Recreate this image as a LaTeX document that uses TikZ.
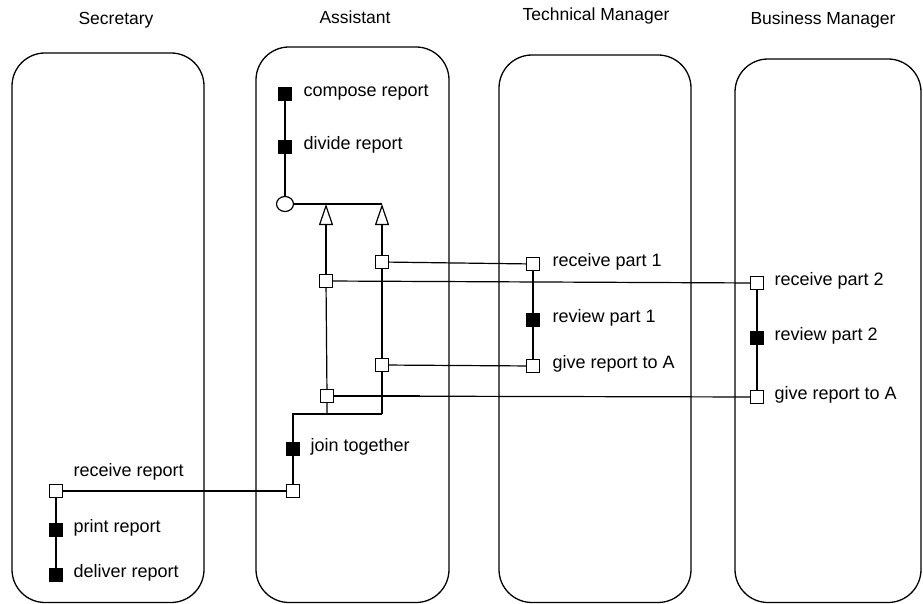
\documentclass[tikz,border=0pt]{standalone}
\usepackage{fontspec}
\setmainfont{Liberation Sans}
\usetikzlibrary{arrows.meta,shapes.geometric}
\newcommand{\bodyfont}{\fontsize{18}{21}\selectfont}
\newcommand{\headfont}{\fontsize{17.5}{20}\selectfont}
\begin{document}
\begin{tikzpicture}[x=1pt,y=-1pt,line width=1.2pt,
  lane/.style={draw,line width=1.3pt,rounded corners=33pt},
  head/.style={font=\headfont,inner sep=0pt,text height=0.72em,text depth=0.21em},
  act/.style={draw,fill=black,minimum size=12.5pt,inner sep=0pt},
  evt/.style={draw,fill=white,minimum size=12.5pt,inner sep=0pt},
  forkpt/.style={draw,fill=white,ellipse,minimum width=17pt,minimum height=15pt,inner sep=0pt},
  lbl/.style={anchor=west,inner sep=0pt,font=\bodyfont,text height=0.72em,text depth=0.21em},
  sync/.style={-{Triangle[open,length=21pt,width=14pt,line width=1.2pt]}},
  heavy/.style={line width=2.4pt}]
\useasboundingbox (0,0) rectangle (923,604);

% swimlanes
\draw[lane] (12,53) rectangle (204,602.5);
\draw[lane] (256,47) rectangle (449,602.5);
\draw[lane] (499,55) rectangle (691,602.5);
\draw[lane] (735,59) rectangle (921,602.5);

% lane titles
\node[head] (hS) at (116,22) {Secretary};
\node[head] (hA) at (355,21) {Assistant};
\node[head] (hT) at (596,18) {Technical Manager};
\node[head] (hB) at (823,22) {Business Manager};

% Assistant
\node[act] (compose) at (285,94) {};
\node[lbl] (composeL) at (303,94) {compose report};
\node[act] (divide) at (285,147) {};
\node[lbl] (divideL) at (303,147) {divide report};
\node[forkpt] (fork) at (285,204) {};
\coordinate (barR) at (382,204);
\coordinate (arrL) at (326,204);
\coordinate (arrR) at (382,204);
\node[evt] (a1) at (382,262) {};
\node[evt] (a2) at (326,281) {};
\node[evt] (a3) at (382,365) {};
\node[evt] (a4) at (327,396) {};
\coordinate (jL) at (293,414);
\coordinate (jR) at (382,414);
\coordinate (jM) at (327,414);
\node[act] (join) at (293,449) {};
\node[lbl] (joinL) at (310,449) {join together};
\node[evt] (a5) at (293,491) {};

% Technical Manager
\node[evt] (t1) at (533,264) {};
\node[lbl] (t1L) at (552,264) {receive part 1};
\node[act] (t2) at (533,320) {};
\node[lbl] (t2L) at (552,320) {review part 1};
\node[evt] (t3) at (533,366) {};
\node[lbl] (t3L) at (552,366) {give report to A};

% Business Manager
\node[evt] (b1) at (757,283) {};
\node[lbl] (b1L) at (774,283) {receive part 2};
\node[act] (b2) at (757,338) {};
\node[lbl] (b2L) at (774,338) {review part 2};
\node[evt] (b3) at (757,397) {};
\node[lbl] (b3L) at (774,397) {give report to A};

% Secretary
\node[evt] (s1) at (56,491) {};
\node[lbl] (s1L) at (73,474) {receive report};
\node[act] (s2) at (56,530) {};
\node[lbl] (s2L) at (73,530) {print report};
\node[act] (s3) at (56,575) {};
\node[lbl] (s3L) at (73,575) {deliver report};

% control flow in the Assistant lane
\draw (compose) -- (divide) -- (fork);
\draw (fork) -- (barR);
\draw[heavy] (322,204) -- (363,204);
\draw[sync] (a2) -- (arrL);
\draw[sync] (a1) -- (arrR);
\draw (a1) -- (a3) -- (jR);
\draw (a2) -- (a4) -- (jM);
\draw (jR) -- (jL) -- (join) -- (a5);
\draw[heavy] (293,414) -- (367,414);

% messages between lanes
\draw (a1) -- (t1);
\draw (a3) -- (t3);
\draw (a2) -- (b1);
\draw (a4) -- (b3);
\draw[heavy] (333,396) -- (420,396);
\draw (s1) -- (a5);
\draw[heavy] (150,491) -- (255,491);

% Technical Manager and Business Manager flows
\draw (t1) -- (t2) -- (t3);
\draw (b1) -- (b2) -- (b3);

% Secretary flow
\draw (s1) -- (s2) -- (s3);
\end{tikzpicture}
\end{document}
